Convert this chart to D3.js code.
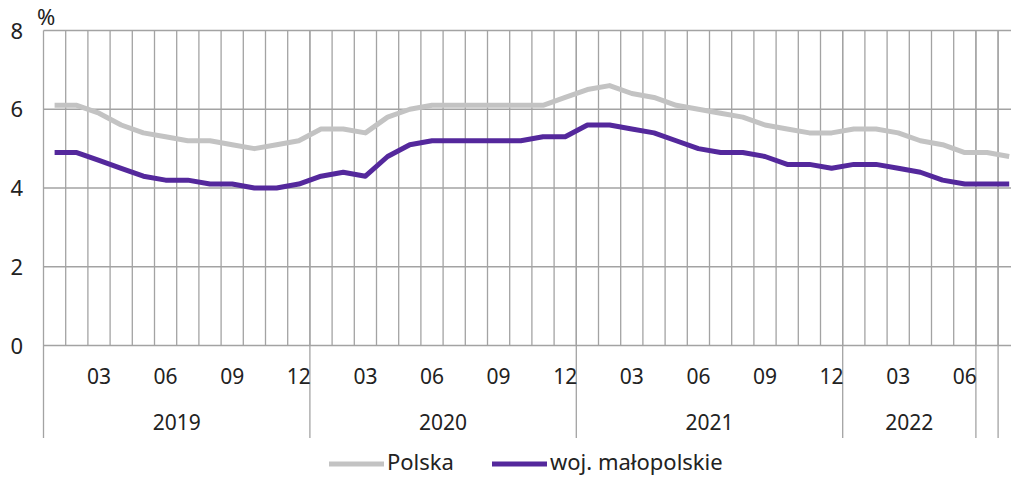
<!DOCTYPE html>
<html><head><meta charset="utf-8">
<script src="https://cdn.jsdelivr.net/npm/d3@7"></script>
<style>body{margin:0;background:#fff}svg{display:block}text{font-family:"Noto Sans",sans-serif;fill:#222}</style>
</head><body><svg id="c" width="1011" height="477"></svg>
<script>
const categories = ["2019-01","2019-02","2019-03","2019-04","2019-05","2019-06","2019-07","2019-08","2019-09","2019-10","2019-11","2019-12",
"2020-01","2020-02","2020-03","2020-04","2020-05","2020-06","2020-07","2020-08","2020-09","2020-10","2020-11","2020-12",
"2021-01","2021-02","2021-03","2021-04","2021-05","2021-06","2021-07","2021-08","2021-09","2021-10","2021-11","2021-12",
"2022-01","2022-02","2022-03","2022-04","2022-05","2022-06","2022-07","2022-08"];
const monthTickLabels = ["","","03","","","06","","","09","","","12",
"","","03","","","06","","","09","","","12",
"","","03","","","06","","","09","","","12",
"","","03","","","06","",""];
const yearLabels = ["2019","2020","2021","2022","",""];
const yearSizes = [12,12,12,6,1,1];
const polska = [6.1,6.1,5.9,5.6,5.4,5.3,5.2,5.2,5.1,5.0,5.1,5.2,
5.5,5.5,5.4,5.8,6.0,6.1,6.1,6.1,6.1,6.1,6.1,6.3,
6.5,6.6,6.4,6.3,6.1,6.0,5.9,5.8,5.6,5.5,5.4,5.4,
5.5,5.5,5.4,5.2,5.1,4.9,4.9,4.8];
const malopolskie = [4.9,4.9,4.7,4.5,4.3,4.2,4.2,4.1,4.1,4.0,4.0,4.1,
4.3,4.4,4.3,4.8,5.1,5.2,5.2,5.2,5.2,5.2,5.3,5.3,
5.6,5.6,5.5,5.4,5.2,5.0,4.9,4.9,4.8,4.6,4.6,4.5,
4.6,4.6,4.5,4.4,4.2,4.1,4.1,4.1];
const yTicks = [0,2,4,6,8];
const seriesNames = ["Polska","woj. małopolskie"];
const seriesColors = ["#c3c3c3","#54289c"];

const svg = d3.select("#c");
const left = 43.5, slot = 22.2;
const x = d3.scaleBand().domain(categories).range([left, left + slot*categories.length]).padding(0);
const y = d3.scaleLinear().domain([0,8]).range([345.5, 30.5]);
const gridC = "#a3a3a3";
const bottomY = 438;

svg.append("g").selectAll("line").data(yTicks).join("line")
  .attr("x1", left).attr("x2", 1011).attr("y1", d=>y(d)).attr("y2", d=>y(d))
  .attr("stroke", gridC).attr("stroke-width",1.3);
svg.append("g").selectAll("line").data(categories).join("line")
  .attr("x1", d=>x(d)+x.bandwidth()).attr("x2", d=>x(d)+x.bandwidth())
  .attr("y1", y(8)).attr("y2", y(0))
  .attr("stroke", gridC).attr("stroke-width",1.3);
svg.append("line").attr("x1",left).attr("x2",left).attr("y1",y(8)).attr("y2",bottomY)
  .attr("stroke", gridC).attr("stroke-width",1.3);
let acc = 0;
yearSizes.forEach((n,i)=>{
  const start = x(categories[acc]);
  const end = x(categories[acc + n - 1]) + x.bandwidth();
  svg.append("line").attr("x1",end).attr("x2",end).attr("y1",y(8)).attr("y2",bottomY)
    .attr("stroke", gridC).attr("stroke-width",1.3);
  if (yearLabels[i]) svg.append("text").attr("x",(start+end)/2).attr("y",430)
    .attr("text-anchor","middle").attr("font-size",21).text(yearLabels[i]);
  acc += n;
});
svg.append("g").selectAll("text").data(categories).join("text")
  .attr("x", d=>x(d)+x.bandwidth()/2).attr("y",384).attr("text-anchor","middle")
  .attr("font-size",21).text((d,i)=>monthTickLabels[i]);
svg.append("g").selectAll("text").data(yTicks).join("text")
  .attr("x",23).attr("y",d=>y(d)+8).attr("text-anchor","end").attr("font-size",22).text(d=>d);
svg.append("text").attr("x",37).attr("y",25).attr("font-size",22).text("%");

const line = d3.line().x((d,i)=>x(categories[i])+x.bandwidth()/2).y(d=>y(d));
[polska, malopolskie].forEach((s,k)=>{
  svg.append("path").attr("d",line(s)).attr("fill","none").attr("stroke",seriesColors[k])
    .attr("stroke-width",5).attr("stroke-linejoin","round");
});

const legX = [329, 492];
seriesNames.forEach((n,k)=>{
  svg.append("line").attr("x1",legX[k]).attr("x2",legX[k]+55).attr("y1",464).attr("y2",464)
    .attr("stroke",seriesColors[k]).attr("stroke-width",5);
  svg.append("text").attr("x",legX[k]+58).attr("y",470).attr("font-size",22).text(n);
});
</script></body></html>
